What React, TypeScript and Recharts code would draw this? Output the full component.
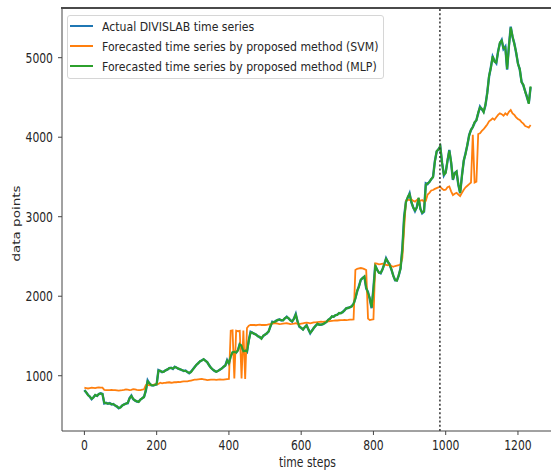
import { LineChart, Line, XAxis, YAxis, ReferenceLine, Legend } from 'recharts';

// time step of every sample (one reading every 5 steps)
const STEP = 5;
const SAMPLE_COUNT = 248;
const steps = Array.from({ length: SAMPLE_COUNT }, (_, i) => i * STEP);

const actual = [
  820, 790, 760, 736, 705, 730, 757, 748, 770, 779, 772, 652, 660, 648, 655, 640, 645, 625, 612, 590,
  605, 625, 640, 648, 655, 720, 750, 705, 690, 676, 672, 700, 715, 736, 810, 940, 900, 883, 878, 886,
  890, 1072, 1060, 1045, 1055, 1068, 1080, 1095, 1100, 1085, 1113, 1100, 1090, 1080, 1072, 1060, 1065, 1045, 1030, 1050,
  1080, 1110, 1135, 1160, 1180, 1195, 1206, 1190, 1170, 1135, 1100, 1080, 1060, 1050, 1062, 1075, 1093, 1110, 1130, 1197,
  1150, 1250, 1290, 1302, 1290, 1323, 1400, 1370, 1302, 1320, 1300, 1450, 1553, 1540, 1530, 1515, 1500, 1485, 1470, 1500,
  1520, 1532, 1560, 1620, 1679, 1670, 1690, 1700, 1709, 1695, 1700, 1720, 1742, 1720, 1700, 1680, 1720, 1776, 1680, 1616,
  1600, 1584, 1610, 1638, 1580, 1533, 1570, 1600, 1630, 1650, 1645, 1640, 1650, 1660, 1680, 1700, 1720, 1742, 1745, 1760,
  1770, 1785, 1790, 1800, 1825, 1848, 1855, 1860, 1875, 1900, 1980, 2060, 2130, 2204, 2230, 2245, 2099, 2050, 1960, 1850,
  2100, 2392, 2330, 2300, 2288, 2340, 2400, 2477, 2430, 2400, 2330, 2260, 2200, 2200, 2260, 2350, 2600, 3000, 3190, 3240,
  3294, 3180, 3120, 3070, 3120, 3231, 3100, 3043, 3063, 3420, 3410, 3440, 3470, 3503, 3700, 3818, 3850, 3881, 3680, 3520,
  3560, 3700, 3839, 3680, 3462, 3550, 3566, 3400, 3294, 3520, 3700, 3800, 3900, 4030, 4090, 4130, 4180, 4216, 4300, 4384,
  4350, 4320, 4400, 4560, 4760, 4880, 5013, 4960, 4930, 5080, 5180, 5223, 5110, 5140, 4850, 5150, 5390, 5260, 5181, 5060,
  4930, 4850, 4698, 4650, 4580, 4500, 4430, 4630,
];

const svm = [
  849, 845, 840, 845, 850, 848, 845, 850, 852, 850, 850, 822, 820, 818, 820, 822, 820, 818, 815, 812,
  815, 818, 822, 828, 825, 820, 822, 830, 828, 822, 820, 818, 825, 830, 883, 885, 880, 884, 886, 890,
  893, 896, 912, 905, 910, 912, 915, 918, 912, 915, 920, 918, 922, 920, 925, 930, 928, 930, 935, 940,
  945, 950, 952, 955, 958, 960, 955, 950, 945, 948, 950, 952, 950, 948, 952, 955, 950, 952, 955, 958,
  960, 1566, 1570, 965, 1566, 1560, 1565, 965, 1570, 960, 1600, 1630, 1638, 1640, 1638, 1635, 1640, 1642, 1638, 1640,
  1638, 1640, 1645, 1650, 1655, 1658, 1660, 1655, 1650, 1652, 1655, 1658, 1660, 1655, 1650, 1652, 1655, 1660, 1652, 1650,
  1655, 1660, 1665, 1668, 1665, 1660, 1665, 1670, 1672, 1675, 1678, 1680, 1678, 1680, 1682, 1685, 1688, 1690, 1692, 1695,
  1695, 1698, 1700, 1700, 1702, 1700, 1702, 1705, 1705, 1708, 2330, 2345, 2351, 2355, 2350, 2340, 2330, 1720, 1700, 1705,
  1710, 2414, 2410, 2400, 2405, 2410, 2400, 2395, 2390, 2395, 2380, 2370, 2380, 2385, 2390, 2400, 2480, 2850, 3200, 3215,
  3210, 3220, 3200, 3190, 3210, 3220, 3200, 3210, 3190, 3200, 3280, 3300, 3330, 3336, 3350, 3360, 3370, 3377, 3350, 3336,
  3340, 3370, 3380, 3320, 3273, 3290, 3300, 3280, 3260, 3300, 3340, 3370, 3390, 3410, 3430, 4030, 3430, 3440, 4040, 4050,
  4080, 4100, 4130, 4160, 4200, 4216, 4237, 4220, 4250, 4280, 4300, 4290, 4270, 4300, 4280, 4320, 4342, 4300, 4280, 4250,
  4230, 4216, 4190, 4170, 4140, 4132, 4120, 4153,
];

const mlp = [
  815, 795, 755, 740, 710, 725, 760, 745, 772, 775, 770, 660, 655, 650, 652, 645, 642, 628, 615, 595,
  600, 628, 638, 650, 660, 715, 745, 710, 688, 680, 670, 698, 718, 730, 820, 930, 905, 880, 880, 884,
  895, 1065, 1062, 1048, 1050, 1070, 1078, 1098, 1096, 1090, 1110, 1104, 1088, 1082, 1070, 1062, 1060, 1048, 1035, 1046,
  1076, 1105, 1138, 1155, 1184, 1190, 1210, 1186, 1172, 1130, 1104, 1078, 1064, 1048, 1060, 1078, 1090, 1114, 1126, 1190,
  1158, 1245, 1295, 1298, 1294, 1318, 1395, 1375, 1308, 1315, 1305, 1440, 1545, 1545, 1525, 1520, 1495, 1490, 1465, 1505,
  1515, 1538, 1555, 1625, 1672, 1675, 1685, 1705, 1704, 1700, 1696, 1725, 1738, 1725, 1695, 1685, 1715, 1770, 1685, 1622,
  1605, 1580, 1615, 1632, 1585, 1540, 1565, 1605, 1625, 1655, 1640, 1645, 1646, 1665, 1675, 1705, 1715, 1748, 1740, 1765,
  1765, 1790, 1785, 1805, 1820, 1852, 1850, 1865, 1870, 1905, 1970, 2070, 2120, 2210, 2225, 2250, 2110, 2040, 1975, 1860,
  2080, 2380, 2340, 2295, 2292, 2335, 2405, 2470, 2435, 2395, 2335, 2255, 2205, 2195, 2265, 2345, 2580, 2980, 3180, 3250,
  3285, 3190, 3115, 3080, 3115, 3240, 3095, 3050, 3070, 3405, 3420, 3435, 3475, 3495, 3690, 3825, 3845, 3890, 3670, 3530,
  3550, 3710, 3830, 3690, 3470, 3545, 3570, 3410, 3300, 3510, 3710, 3790, 3910, 4020, 4095, 4125, 4190, 4210, 4310, 4375,
  4360, 4315, 4410, 4550, 4770, 4870, 5020, 4950, 4940, 5070, 5190, 5215, 5120, 5130, 4860, 5140, 5380, 5270, 5170, 5070,
  4920, 4860, 4690, 4660, 4570, 4510, 4420, 4640,
];

const xTicks = [0, 200, 400, 600, 800, 1000, 1200];
const yTicks = [1000, 2000, 3000, 4000, 5000];
const xDomain = [-62, 1297];
const yDomain = [305, 5625];
const splitStep = 984; // train / test boundary

const seriesNames = [
  'Actual DIVISLAB time series',
  'Forecasted time series by proposed method (SVM)',
  'Forecasted time series by proposed method (MLP)',
];

const data = steps.map((t, i) => ({ t, actual: actual[i], svm: svm[i], mlp: mlp[i] }));

const FONT = 'DejaVu Sans';
const TEXT = '#262626';
const AXIS = '#444';
const SQUEEZE = 0.8; // the source picture is squashed horizontally

const XTick = (p: any) => (
  <g transform={`translate(${p.x},${p.y})`}>
    <text transform={`scale(${SQUEEZE},1)`} y={13} textAnchor="middle" fontSize={13.5} fontFamily={FONT} fill={TEXT}>
      {p.payload.value}
    </text>
  </g>
);

const YTick = (p: any) => (
  <g transform={`translate(${p.x},${p.y})`}>
    <text transform={`scale(${SQUEEZE},1)`} y={5} textAnchor="end" fontSize={13.5} fontFamily={FONT} fill={TEXT}>
      {p.payload.value}
    </text>
  </g>
);

const XLabel = (p: any) => {
  const vb = p.viewBox;
  return (
    <g transform={`translate(${vb.x + vb.width / 2},${vb.y + 36}) scale(${SQUEEZE},1)`}>
      <text textAnchor="middle" fontSize={13.5} fontFamily={FONT} fill={TEXT}>time steps</text>
    </g>
  );
};

const YLabel = (p: any) => {
  const vb = p.viewBox;
  return (
    <g transform={`translate(19.5,${vb.y + vb.height / 2 + 4}) scale(${SQUEEZE},1) rotate(-90)`}>
      <text textAnchor="middle" fontSize={13.5} fontFamily={FONT} fill={TEXT}>data points</text>
    </g>
  );
};

const LegendBox = (p: any) => {
  // keep plotting order, not alphabetical
  const items = [...(p.payload || [])].sort(
    (a: any, b: any) => seriesNames.indexOf(a.value) - seriesNames.indexOf(b.value)
  );
  return (
    <div
      style={{
        width: 317,
        height: 64,
        boxSizing: 'border-box',
        border: '1px solid #d6d6d6',
        borderRadius: 3,
        background: 'rgba(255,255,255,0.8)',
        padding: '0 0 0 2px',
        fontFamily: FONT,
        fontSize: 13,
        color: TEXT,
      }}
    >
      {items.map((e: any) => (
        <div key={e.value} style={{ height: 20, display: 'flex', alignItems: 'center' }}>
          <span style={{ width: 23, height: 2, background: e.color, marginRight: 9, flex: 'none' }} />
          <span style={{ display: 'inline-block', whiteSpace: 'nowrap', transform: 'scaleX(0.84)', transformOrigin: 'left center' }}>
            {e.value}
          </span>
        </div>
      ))}
    </div>
  );
};

export default function App() {
  return (
    <div style={{ position: 'fixed', left: 0, top: 0, width: 551, height: 475, overflow: 'hidden', background: '#fff' }}>
      <LineChart width={560} height={475} data={data} margin={{ top: 8, right: 7, bottom: 0, left: 0 }}>
        <XAxis
          dataKey="t"
          type="number"
          domain={xDomain}
          allowDataOverflow
          ticks={xTicks}
          height={44}
          tickSize={4}
          tickMargin={2}
          stroke={AXIS}
          tick={XTick}
          label={XLabel}
        />
        <YAxis
          type="number"
          domain={yDomain}
          allowDataOverflow
          ticks={yTicks}
          width={62}
          tickSize={4}
          tickMargin={5}
          stroke={AXIS}
          tick={YTick}
          label={YLabel}
        />
        <Legend
          layout="vertical"
          align="center"
          verticalAlign="middle"
          wrapperStyle={{ left: 67, top: 15, width: 'auto', height: 'auto' }}
          content={LegendBox}
        />
        <Line dataKey="actual" name={seriesNames[0]} stroke="#1f77b4" strokeWidth={2.4} dot={false} type="linear" isAnimationActive={false} />
        <Line dataKey="svm" name={seriesNames[1]} stroke="#ff7f0e" strokeWidth={1.8} dot={false} type="linear" isAnimationActive={false} />
        <Line dataKey="mlp" name={seriesNames[2]} stroke="#2ca02c" strokeWidth={2} dot={false} type="linear" isAnimationActive={false} />
        <ReferenceLine x={splitStep} stroke="#333" strokeWidth={1.5} strokeDasharray="2 2.2" />
      </LineChart>
      {/* top edge of the matplotlib-style axes frame */}
      <div style={{ position: 'absolute', left: 61, top: 7, width: 490, height: 2, background: '#4a4a4a', zIndex: 5 }} />
    </div>
  );
}
